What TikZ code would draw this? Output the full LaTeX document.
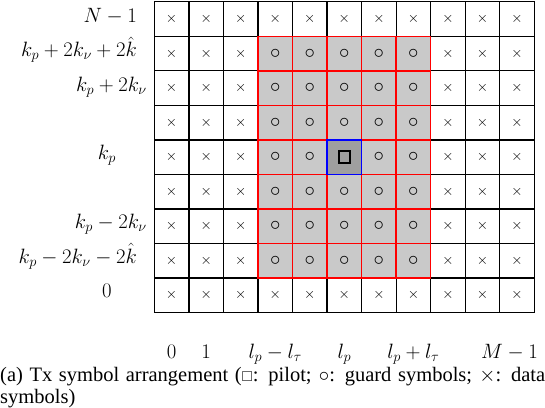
\documentclass[tikz,border=0pt]{standalone}
\usepackage{amssymb}
\usepackage{fontspec}
\setmainfont{Liberation Serif}
\begin{document}
\begin{tikzpicture}[x=1pt,y=-1pt,
  cellbase/.style={rectangle,minimum size=34.55pt,inner sep=0pt,outer sep=0pt},
  datacell/.style={cellbase,draw=black,line width=1.3pt,fill=white,font=\fontsize{14.5}{16}\selectfont},
  guardcell/.style={cellbase,draw=red,line width=1.4pt,fill=lightgray!85!white,font=\fontsize{20}{22}\selectfont},
  pilotcell/.style={cellbase,draw=blue,line width=1.4pt,fill=gray!75!white},
  pilotmark/.style={rectangle,draw=black,line width=2pt,minimum size=11.5pt,inner sep=0pt},
  lab/.style={font=\fontsize{22}{26}\selectfont,inner sep=0pt},
  captext/.style={font=\fontsize{20.5}{24}\selectfont,inner sep=0pt}]
\useasboundingbox (0,0) rectangle (545,407);
\def\gx{154.3}\def\gy{1.7}\def\gs{34.55}
% data cells
\foreach \r in {0,...,8}{
 \foreach \c in {0,...,10}{
  \pgfmathtruncatemacro\ing{and(and(\r>=1,\r<=7),and(\c>=3,\c<=7))}
  \ifnum\ing=0
   \node[datacell] (c-\r-\c) at ({\gx+\gs*(\c+0.5)},{\gy+\gs*(\r+0.5)}) {$\times$};
  \fi
 }}
% guard cells
\foreach \r in {1,...,7}{
 \foreach \c in {3,...,7}{
  \pgfmathtruncatemacro\isp{and(\r==4,\c==5)}
  \ifnum\isp=0
   \node[guardcell] (c-\r-\c) at ({\gx+\gs*(\c+0.5)},{\gy+\gs*(\r+0.5)}) {$\circ$};
  \fi
 }}
% pilot
\node[pilotcell] (c-4-5) at ({\gx+\gs*5.5},{\gy+\gs*4.5}) {};
\node[pilotmark] (pm) at (c-4-5.center) {};
% row labels
\node[lab,anchor=mid east] (r0) at (137,{\gy+\gs*0.5+1}) {$N-1$};
\node[lab,anchor=mid east] (r1) at (137,{\gy+\gs*1.5+1}) {$k_p+2k_\nu+2\hat{k}$};
\node[lab,anchor=mid east] (r2) at (147,{\gy+\gs*2.5+1}) {$k_p+2k_\nu$};
\node[lab,anchor=mid] (r4) at (107,{\gy+\gs*4.5}) {$k_p$};
\node[lab,anchor=mid east] (r6) at (147,{\gy+\gs*6.5}) {$k_p-2k_\nu$};
\node[lab,anchor=mid east] (r7) at (137,{\gy+\gs*7.5}) {$k_p-2k_\nu-2\hat{k}$};
\node[lab,anchor=mid] (r8) at (107,{\gy+\gs*8.5}) {$0$};
% column labels
\node[lab,anchor=base] (k0) at ({\gx+\gs*0.5},358) {$0$};
\node[lab,anchor=base] (k1) at ({\gx+\gs*1.5},358) {$1$};
\node[lab,anchor=base] (k3) at ({\gx+\gs*3.5},358) {$l_p-l_\tau$};
\node[lab,anchor=base] (k5) at ({\gx+\gs*5.5},358) {$l_p$};
\node[lab,anchor=base] (k7) at ({\gx+\gs*7.5},358) {$l_p+l_\tau$};
\node[lab,anchor=base east] (k10) at (538,358) {$M-1$};
% caption
\node[captext,anchor=base west] (cap1) at (0,381) {\makebox[545pt][s]{(a) Tx symbol arrangement ($\scriptstyle\square$: pilot; $\circ$: guard symbols; $\times$: data}};
\node[captext,anchor=base west] (cap2) at (0,403) {symbols)};
\end{tikzpicture}
\end{document}
